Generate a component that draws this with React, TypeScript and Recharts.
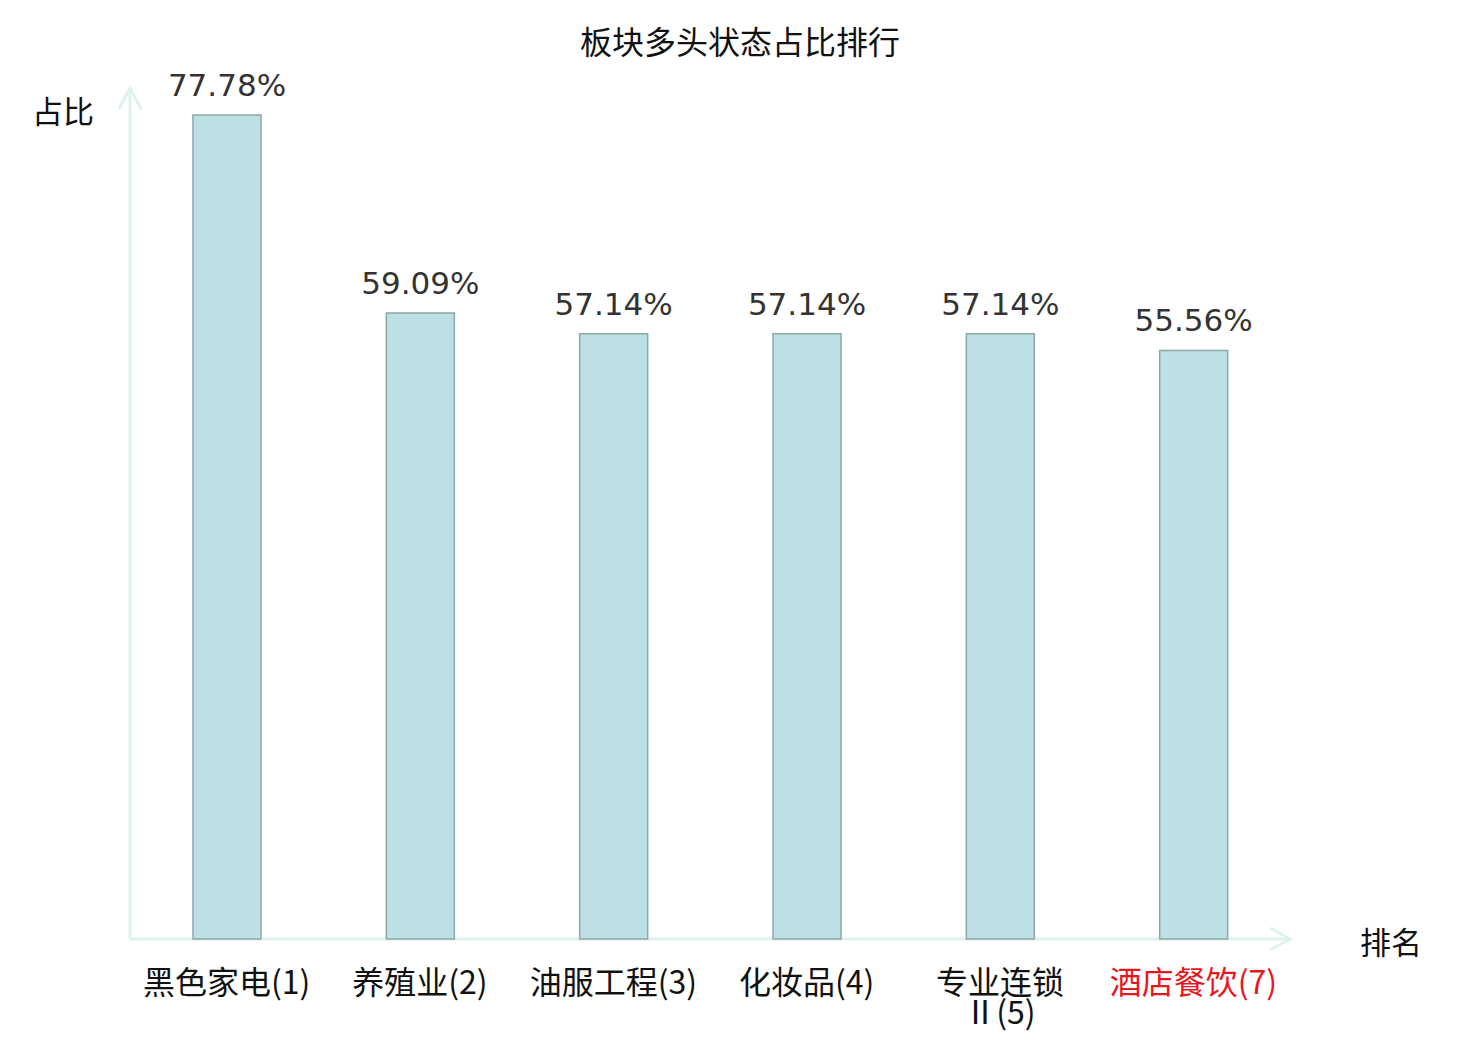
import { Bar, BarChart, LabelList, XAxis, YAxis } from "recharts"

// 板块名称(排名) and 多头状态占比 (%)
const sectors = ["黑色家电(1)", "养殖业(2)", "油服工程(3)", "化妆品(4)", "专业连锁Ⅱ(5)", "酒店餐饮(7)"]
const ratios = [77.78, 59.09, 57.14, 57.14, 57.14, 55.56]
const highlighted = ["酒店餐饮(7)"]
const yDomain = [0, 80]

const chartTitle = "板块多头状态占比排行"
const yTitle = "占比"
const xTitle = "排名"

const data = sectors.map((name, i) => ({ name, ratio: ratios[i] }))

const W = 1480
const H = 1040
const M = { top: 91.5, right: 190, bottom: 0, left: 130 }
const X_AXIS_H = 101
const CJK = '"Noto Sans CJK SC", "Noto Sans", sans-serif'
const AXIS_COLOR = "#dff2ef"

function wrapLabel(label: string) {
  if (label.length <= 7) return [label]
  return [label.slice(0, 4), label.slice(4)]
}

function SectorTick(props: any) {
  const { x, y, payload } = props
  const lines = wrapLabel(payload.value)
  const red = highlighted.includes(payload.value)
  return (
    <text
      x={x}
      y={y}
      textAnchor="middle"
      fontFamily={CJK}
      fontSize={32}
      fill={red ? "#e8171d" : "#111"}
    >
      {lines.map((line, i) => (
        <tspan key={i} x={x} dy={i === 0 ? 47 : 30}>
          {line}
        </tspan>
      ))}
    </text>
  )
}

function Axes() {
  const x0 = M.left
  const x1 = W - M.right
  const y0 = H - X_AXIS_H
  const yTop = M.top - 3.5
  return (
    <g stroke={AXIS_COLOR} strokeWidth={3} fill="none">
      <line x1={x0} y1={y0} x2={x1} y2={y0} />
      <line x1={x0} y1={y0} x2={x0} y2={yTop} />
      <polyline points={`${x1 - 20},${y0 - 11} ${x1},${y0} ${x1 - 20},${y0 + 11}`} />
      <polyline points={`${x0 - 11},${yTop + 21} ${x0},${yTop} ${x0 + 11},${yTop + 21}`} />
    </g>
  )
}

export default function App() {
  return (
    <div style={{ width: W, height: H, margin: -8, background: "#fff" }}>
      <BarChart width={W} height={H} data={data} margin={M} barCategoryGap={0}>
        <Axes />
        <text x={W / 2} y={54} textAnchor="middle" fontFamily={CJK} fontSize={32} fill="#111">
          {chartTitle}
        </text>
        <text x={63} y={123} textAnchor="middle" fontFamily={CJK} fontSize={31} fill="#111">
          {yTitle}
        </text>
        <text x={1391} y={954} textAnchor="middle" fontFamily={CJK} fontSize={31} fill="#111">
          {xTitle}
        </text>
        <XAxis
          dataKey="name"
          height={X_AXIS_H}
          axisLine={false}
          tickLine={false}
          interval={0}
          tick={<SectorTick />}
        />
        <YAxis hide domain={yDomain} />
        <Bar
          dataKey="ratio"
          barSize={68}
          fill="#bce0e3"
          stroke="#8ba8a8"
          strokeWidth={1.5}
          isAnimationActive={false}
        >
          <LabelList
            dataKey="ratio"
            position="top"
            offset={19}
            formatter={(v: any) => `${Number(v).toFixed(2)}%`}
            style={{ fontFamily: '"DejaVu Sans", sans-serif', fontSize: 31, fill: "#333" }}
          />
        </Bar>
      </BarChart>
    </div>
  )
}
